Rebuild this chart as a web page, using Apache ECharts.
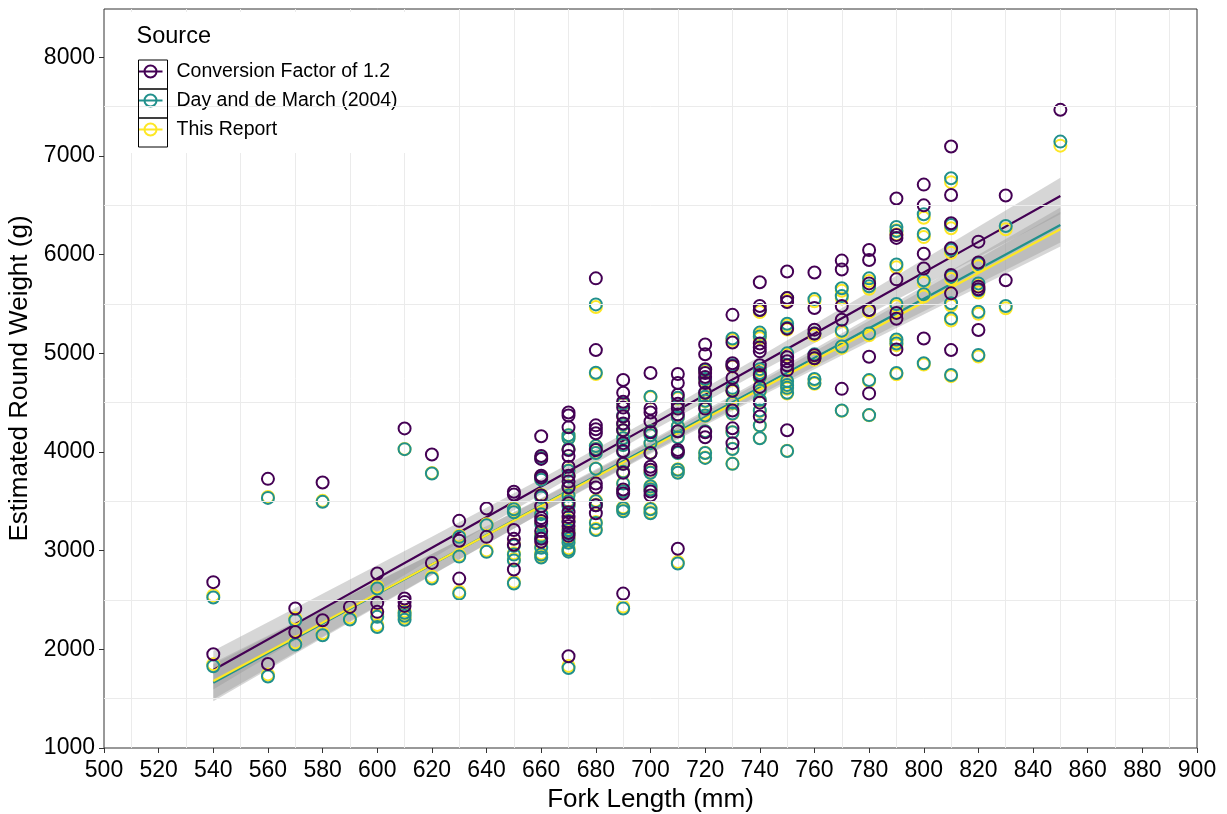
<!DOCTYPE html>
<html>
<head>
<meta charset="utf-8">
<script src="https://cdn.jsdelivr.net/npm/echarts/dist/echarts.min.js"></script>
<style>html,body{margin:0;padding:0;background:#fff;}#c{width:1227px;height:814px;}</style>
</head>
<body>
<div id="c"></div>
<script>
// ---------- data ----------
const seriesNames = ['Conversion Factor of 1.2', 'Day and de March (2004)', 'This Report'];
const seriesColors = ['#440154', '#21908C', '#FDE725'];

// [fork length, [estimated round weights]]
const cfData = [
  [540, [2681, 1950]],
  [560, [3728, 1852]],
  [570, [2414, 2176]],
  [580, [3691, 2295]],
  [590, [2430]],
  [600, [2769, 2471, 2380]],
  [610, [4239, 2515, 2481, 2440]],
  [620, [3975, 2876]],
  [630, [3302, 3100, 2717]],
  [640, [3427, 3140]],
  [650, [3597, 3570, 3210, 3120, 3060, 2809]],
  [660, [4160, 3960, 3930, 3760, 3740, 3560, 3450, 3330, 3300, 3200, 3120, 3090]],
  [670, [4400, 4370, 4250, 4020, 3960, 3850, 3760, 3700, 3640, 3480, 3390, 3340, 3290, 3250, 3180, 3150, 1930]],
  [680, [5760, 5033, 4270, 4230, 4190, 4020, 3680, 3640, 3460, 3380]],
  [690, [4730, 4600, 4510, 4450, 4360, 4290, 4220, 4090, 4010, 3880, 3790, 3620, 3580, 2565]],
  [700, [4800, 4440, 4400, 4310, 4200, 3990, 3850, 3820, 3600, 3560]],
  [710, [4790, 4700, 4580, 4490, 4440, 4380, 4210, 4020, 4000, 3020]],
  [720, [5090, 4990, 4840, 4800, 4760, 4700, 4600, 4440, 4200, 4150]],
  [730, [5390, 5110, 4900, 4870, 4750, 4620, 4420, 4240, 4090]],
  [740, [5720, 5480, 5440, 5100, 5060, 5020, 4880, 4780, 4660, 4500, 4360]],
  [750, [5830, 5560, 5520, 5250, 4960, 4920, 4880, 4830, 4220]],
  [760, [5820, 5460, 5240, 5200, 4980, 4950]],
  [770, [5940, 5850, 5480, 5340, 4640]],
  [780, [6047, 5946, 5709, 5439, 4966, 4594]],
  [790, [6570, 6200, 6170, 5750, 5410, 5350, 5040]],
  [800, [6710, 6500, 6010, 5860, 5150]],
  [810, [7096, 6605, 6318, 6064, 5794, 5608, 5033]],
  [820, [6132, 5920, 5676, 5650, 5236]],
  [830, [6600, 5740]],
  [850, [7468]]
];

const dayData = [
  [540, [2525, 1828]],
  [560, [3535, 1724]],
  [570, [2295, 2049]],
  [580, [3495, 2143]],
  [590, [2302]],
  [600, [2617, 2329, 2227]],
  [610, [4029, 2370, 2340, 2300]],
  [620, [3782, 2718]],
  [630, [3140, 2940, 2565]],
  [640, [3258, 2988]],
  [650, [3420, 3390, 3050, 2960, 2900, 2667]],
  [660, [3940, 3750, 3720, 3560, 3540, 3370, 3270, 3150, 3130, 3030, 2960, 2930]],
  [670, [4170, 4140, 4030, 3810, 3750, 3650, 3560, 3500, 3450, 3300, 3210, 3170, 3120, 3080, 3010, 2990, 1810]],
  [680, [5496, 4803, 4060, 4030, 3990, 3830, 3500, 3460, 3280, 3210]],
  [690, [4490, 4370, 4280, 4220, 4140, 4070, 4000, 3880, 3800, 3680, 3600, 3430, 3400, 2413]],
  [700, [4560, 4210, 4170, 4090, 3990, 3790, 3650, 3620, 3420, 3380]],
  [710, [4550, 4460, 4350, 4260, 4210, 4150, 3990, 3820, 3790, 2870]],
  [720, [4830, 4740, 4600, 4560, 4520, 4460, 4370, 4210, 3990, 3940]],
  [730, [5150, 4880, 4650, 4620, 4500, 4390, 4200, 4030, 3880]],
  [740, [5440, 5210, 5170, 4840, 4800, 4760, 4620, 4530, 4420, 4270, 4140]],
  [750, [5560, 5300, 5260, 5000, 4720, 4680, 4650, 4600, 4010]],
  [760, [5550, 5200, 4990, 4950, 4740, 4700]],
  [770, [5660, 5580, 5230, 5070, 4420]],
  [780, [5760, 5680, 5440, 5202, 4729, 4374]],
  [790, [6280, 6240, 5900, 5500, 5140, 5100, 4800]],
  [800, [6410, 6210, 5740, 5600, 4900]],
  [810, [6774, 6301, 6050, 5780, 5507, 5354, 4780]],
  [820, [5910, 5709, 5640, 5422, 4983]],
  [830, [6290, 5480]],
  [850, [7146]]
];

const reportData = [
  [540, [2545, 1850]],
  [560, [3545, 1745]],
  [570, [2315, 2070]],
  [580, [3505, 2163]],
  [590, [2322]],
  [600, [2635, 2348, 2247]],
  [610, [4030, 2390, 2360, 2320]],
  [620, [3787, 2735]],
  [630, [3152, 2955, 2584]],
  [640, [3268, 3002]],
  [650, [3428, 3398, 3062, 2973, 2914, 2684]],
  [660, [3943, 3755, 3725, 3567, 3547, 3379, 3280, 3162, 3142, 3043, 2974, 2944]],
  [670, [4170, 4140, 4032, 3814, 3755, 3656, 3567, 3508, 3458, 3310, 3221, 3182, 3132, 3093, 3024, 3004, 1832]],
  [680, [5470, 4790, 4062, 4032, 3993, 3834, 3508, 3468, 3290, 3221]],
  [690, [4484, 4366, 4279, 4220, 4141, 4072, 4003, 3884, 3805, 3686, 3607, 3439, 3409, 2433]],
  [700, [4553, 4210, 4171, 4092, 3993, 3795, 3656, 3627, 3428, 3389]],
  [710, [4543, 4455, 4347, 4258, 4210, 4151, 3993, 3825, 3795, 2885]],
  [720, [4818, 4730, 4592, 4553, 4514, 4455, 4367, 4210, 3993, 3944]],
  [730, [5134, 4867, 4642, 4612, 4494, 4386, 4200, 4032, 3884]],
  [740, [5418, 5192, 5153, 4828, 4789, 4750, 4612, 4523, 4415, 4268, 4141]],
  [750, [5537, 5281, 5242, 4985, 4710, 4671, 4641, 4592, 4013]],
  [760, [5527, 5182, 4976, 4936, 4730, 4691]],
  [770, [5635, 5557, 5212, 5055, 4417]],
  [780, [5734, 5655, 5418, 5184, 4719, 4372]],
  [790, [6247, 6208, 5872, 5477, 5122, 5083, 4788]],
  [800, [6375, 6178, 5714, 5576, 4887]],
  [810, [6735, 6268, 6020, 5754, 5484, 5333, 4769]],
  [820, [5883, 5684, 5616, 5400, 4968]],
  [830, [6257, 5457]],
  [850, [7105]]
];

// fitted lines (lm) and 95% confidence bands, read at these fork lengths
const bandX = [540, 580, 620, 660, 700, 740, 780, 820, 850];
const cfFit = [1790, 2410, 3030, 3650, 4270, 4890, 5510, 6130, 6595];
const cfLo  = [1594, 2257, 2918, 3571, 4206, 4811, 5398, 5977, 6410];
const cfHi  = [1986, 2563, 3142, 3729, 4334, 4969, 5622, 6283, 6780];
const dayFit = [1662, 2261, 2859, 3458, 4056, 4655, 5254, 5852, 6301];
const dayLo  = [1475, 2115, 2752, 3383, 3995, 4580, 5147, 5706, 6124];
const dayHi  = [1849, 2407, 2966, 3533, 4117, 4730, 5361, 5998, 6478];
const repFit = [1680, 2271, 2861, 3452, 4042, 4633, 5224, 5814, 6257];
const repLo  = [1495, 2127, 2755, 3378, 3982, 4559, 5118, 5670, 6082];
const repHi  = [1865, 2415, 2967, 3526, 4102, 4707, 5330, 5958, 6432];

// axis ticks / gridlines
const xTicks = [500, 900, 20];
const yTicks = [1000, 2000, 3000, 4000, 5000, 6000, 7000, 8000];
const yGrid = [1500, 2500, 3500, 4500, 5500, 6500, 7500];

// ---------- chart ----------
const FONT = "'Liberation Sans', Arial, Helvetica, sans-serif";
function flat(cols) {
  const out = [];
  cols.forEach(([x, ys]) => ys.forEach(y => out.push([x, y])));
  return out;
}
function pairs(xs, ys) { return xs.map((x, i) => [x, ys[i]]); }

function scatter(i, cols) {
  return {
    name: seriesNames[i], type: 'scatter', data: flat(cols),
    symbol: 'circle', symbolSize: 12, z: 2,
    itemStyle: { color: 'rgba(0,0,0,0)', borderColor: seriesColors[i], borderWidth: 2, opacity: 1 },
    emphasis: { disabled: true }, silent: true
  };
}
function band(lo, hi) {
  return {
    type: 'custom', z: 2, silent: true,
    data: [[bandX[0], lo[0]]],
    renderItem: function (params, api) {
      const pts = [];
      for (let i = 0; i < bandX.length; i++) pts.push(api.coord([bandX[i], hi[i]]));
      for (let i = bandX.length - 1; i >= 0; i--) pts.push(api.coord([bandX[i], lo[i]]));
      return { type: 'polygon', shape: { points: pts }, style: { fill: 'rgba(153,153,153,0.4)' } };
    }
  };
}
function fitLine(i, fit) {
  return {
    type: 'line', data: pairs(bandX, fit), showSymbol: false, z: 2, silent: true,
    lineStyle: { color: seriesColors[i], width: 2.2 }, emphasis: { disabled: true }
  };
}

const legendIcon = 'path://M2.5 13.5H26.5V15.5H2.5Z M14.5 7.5A7 7 0 1 1 14.49 7.5Z M14.5 9.5A5 5 0 1 0 14.51 9.5Z';
const plain = v => String(v);

const option = {
  animation: false,
  backgroundColor: '#ffffff',
  grid: { left: 104, right: 30, top: 9, bottom: 66, outerBoundsMode: 'none', containLabel: false, show: true, borderColor: '#333333', borderWidth: 1, backgroundColor: 'rgba(0,0,0,0)' },
  xAxis: {
    type: 'value', min: xTicks[0], max: xTicks[1], interval: xTicks[2],
    name: 'Fork Length (mm)', nameLocation: 'middle', nameGap: 39,
    nameTextStyle: { fontFamily: FONT, fontSize: 26, color: '#000' },
    axisLine: { show: false },
    axisTick: { show: true, length: 5, lineStyle: { color: '#333333', width: 1 } },
    axisLabel: { fontFamily: FONT, fontSize: 23, color: '#000', margin: 11, formatter: plain },
    splitLine: { show: false },
    minorTick: { show: false, splitNumber: 2 },
    minorSplitLine: { show: true, lineStyle: { color: '#EBEBEB', width: 1 } }
  },
  yAxis: {
    type: 'value', min: 1000, max: 8490, interval: 1000,
    name: 'Estimated Round Weight (g)', nameLocation: 'middle', nameGap: 65,
    nameTextStyle: { fontFamily: FONT, fontSize: 26, color: '#000' },
    axisLine: { show: false },
    axisTick: { show: true, length: 5, lineStyle: { color: '#333333', width: 1 }, customValues: yTicks },
    axisLabel: { fontFamily: FONT, fontSize: 23, color: '#000', margin: 9, customValues: yTicks, formatter: plain },
    splitLine: { show: false }
  },
  legend: {
    orient: 'vertical', left: 126, top: 12,
    padding: [45, 10, 9, 12.5], itemGap: 0,
    backgroundColor: '#ffffff',
    itemWidth: 24, itemHeight: 14, icon: legendIcon,
    selectedMode: false,
    textStyle: { fontFamily: FONT, fontSize: 19.5, color: '#000', lineHeight: 29, padding: [0, 0, 0, 9] },
    data: seriesNames.map((n, i) => ({ name: n, itemStyle: { color: seriesColors[i], borderWidth: 0 } }))
  },
  graphic: [
    { type: 'text', left: 136.5, top: 25, z: 100, style: { text: 'Source', font: "23.5px " + FONT, fill: '#000' } },
    { type: 'rect', left: 136, top: 57.5, z: 100, shape: { width: 29, height: 29 }, style: { fill: 'none', stroke: '#000', lineWidth: 1 } },
    { type: 'rect', left: 136, top: 86.5, z: 100, shape: { width: 29, height: 29 }, style: { fill: 'none', stroke: '#000', lineWidth: 1 } },
    { type: 'rect', left: 136, top: 115.5, z: 100, shape: { width: 29, height: 29 }, style: { fill: 'none', stroke: '#000', lineWidth: 1 } }
  ],
  series: [
    {
      type: 'scatter', data: [], z: 1, silent: true,
      markLine: {
        silent: true, symbol: 'none', label: { show: false },
        lineStyle: { color: '#EBEBEB', width: 1, type: 'solid' },
        emphasis: { disabled: true },
        data: yGrid.map(v => ({ yAxis: v }))
      }
    },
    scatter(2, reportData),
    scatter(1, dayData),
    scatter(0, cfData),
    band(cfLo, cfHi), fitLine(0, cfFit),
    band(dayLo, dayHi), fitLine(1, dayFit),
    band(repLo, repHi), fitLine(2, repFit)
  ]
};
const chart = echarts.init(document.getElementById('c'), null, { renderer: 'canvas' });
chart.setOption(option);
</script>
</body>
</html>
